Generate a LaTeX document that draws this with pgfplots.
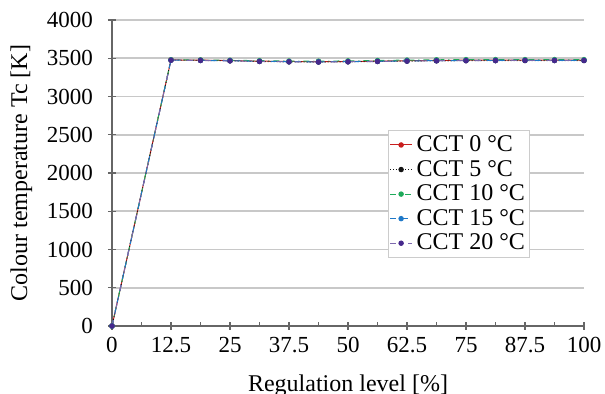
\documentclass[border=0pt]{standalone}
\usepackage{fontspec}
\setmainfont{Liberation Serif}
\usepackage{pgfplots}
\pgfplotsset{compat=1.18}
\definecolor{c0}{RGB}{200,30,30}
\definecolor{c5}{RGB}{20,20,20}
\definecolor{c10}{RGB}{30,170,90}
\definecolor{c15}{RGB}{30,120,200}
\definecolor{c20}{RGB}{70,40,140}
\definecolor{gridc}{RGB}{200,200,200}
\begin{document}
\begin{tikzpicture}
\begin{axis}[
  name=ax,
  scale only axis,
  width=236pt, height=153pt,
  xmin=0, xmax=100, ymin=0, ymax=4000,
  axis x line=bottom, axis y line=left,
  axis line style={-, gray!80!black, line width=0.6pt},
  xtick={0,12.5,25,37.5,50,62.5,75,87.5,100},
  xticklabels={0,12.5,25,37.5,50,62.5,75,87.5,100},
  minor x tick num=1,
  ytick={0,500,...,4000},
  tick align=center,
  major tick length=4pt,
  minor tick length=2pt,
  minor tick style={yshift=1pt},
  tick style={gray!80!black, line width=0.6pt},
  ymajorgrids,
  grid style={gridc, line width=0.9pt},
  /pgf/number format/assume math mode=true,
  /pgf/number format/1000 sep={},
  ticklabel style={font=\fontsize{11.5}{13}\selectfont},
  yticklabel style={xshift=-4pt},
  xlabel={Regulation level [\%]},
  ylabel={Colour temperature Tc [K]},
  label style={font=\fontsize{12}{14}\selectfont},
  xlabel style={yshift=-4pt},
  ylabel style={yshift=0.5pt},
  legend style={at={(rel axis cs:0.585,0.6405)}, anchor=north west,
    font=\fontsize{12}{12.8}\selectfont, draw=gray!40, line width=0.5pt,
    inner sep=0.5pt, row sep=-1.2pt, fill=white},
  legend cell align=left,
  legend image code/.code={\draw[#1] (0pt,0pt) -- (11pt,0pt); \draw[#1, mark repeat=1, mark phase=1] plot coordinates {(5.5pt,0pt)};},
  every axis plot/.append style={line width=0.5pt, mark=*, mark size=1.1pt},
  clip=false,
]
\addplot[c0, solid, mark options={fill=c0, draw=c0}] coordinates {
(0,0) (12.5,3478) (18.75,3475) (25,3470) (31.25,3462) (37.5,3458) (43.75,3455) (50,3458) (56.25,3462) (62.5,3468) (68.75,3472) (75,3475) (81.25,3475) (87.5,3476) (93.75,3476) (100,3476)};
\addlegendentry{CCT 0 °C}
\addplot[c5, densely dotted, mark options={solid, fill=c5, draw=c5}] coordinates {
(0,0) (12.5,3476) (18.75,3472) (25,3466) (31.25,3458) (37.5,3452) (43.75,3450) (50,3453) (56.25,3458) (62.5,3462) (68.75,3466) (75,3468) (81.25,3469) (87.5,3470) (93.75,3470) (100,3470)};
\addlegendentry{CCT 5 °C}
\addplot[c10, dash dot, mark options={solid, fill=c10, draw=c10}] coordinates {
(0,0) (12.5,3480) (18.75,3478) (25,3474) (31.25,3468) (37.5,3464) (43.75,3462) (50,3465) (56.25,3470) (62.5,3476) (68.75,3480) (75,3482) (81.25,3482) (87.5,3482) (93.75,3482) (100,3482)};
\addlegendentry{CCT 10 °C}
\addplot[c15, dashed, mark options={solid, fill=c15, draw=c15}] coordinates {
(0,0) (12.5,3475) (18.75,3472) (25,3468) (31.25,3460) (37.5,3456) (43.75,3453) (50,3456) (56.25,3460) (62.5,3465) (68.75,3469) (75,3471) (81.25,3472) (87.5,3473) (93.75,3473) (100,3473)};
\addlegendentry{CCT 15 °C}
\addplot[c20!70!white, loosely dashed, mark options={solid, fill=c20, draw=c20}] coordinates {
(0,0) (12.5,3474) (18.75,3471) (25,3466) (31.25,3458) (37.5,3454) (43.75,3451) (50,3454) (56.25,3458) (62.5,3463) (68.75,3467) (75,3469) (81.25,3470) (87.5,3471) (93.75,3471) (100,3471)};
\addlegendentry{CCT 20 °C}
\end{axis}
\pgfresetboundingbox
\path[use as bounding box] ([xshift=-56pt,yshift=-34pt]ax.south west) rectangle ([xshift=10.5pt,yshift=10pt]ax.north east);
\end{tikzpicture}
\end{document}
